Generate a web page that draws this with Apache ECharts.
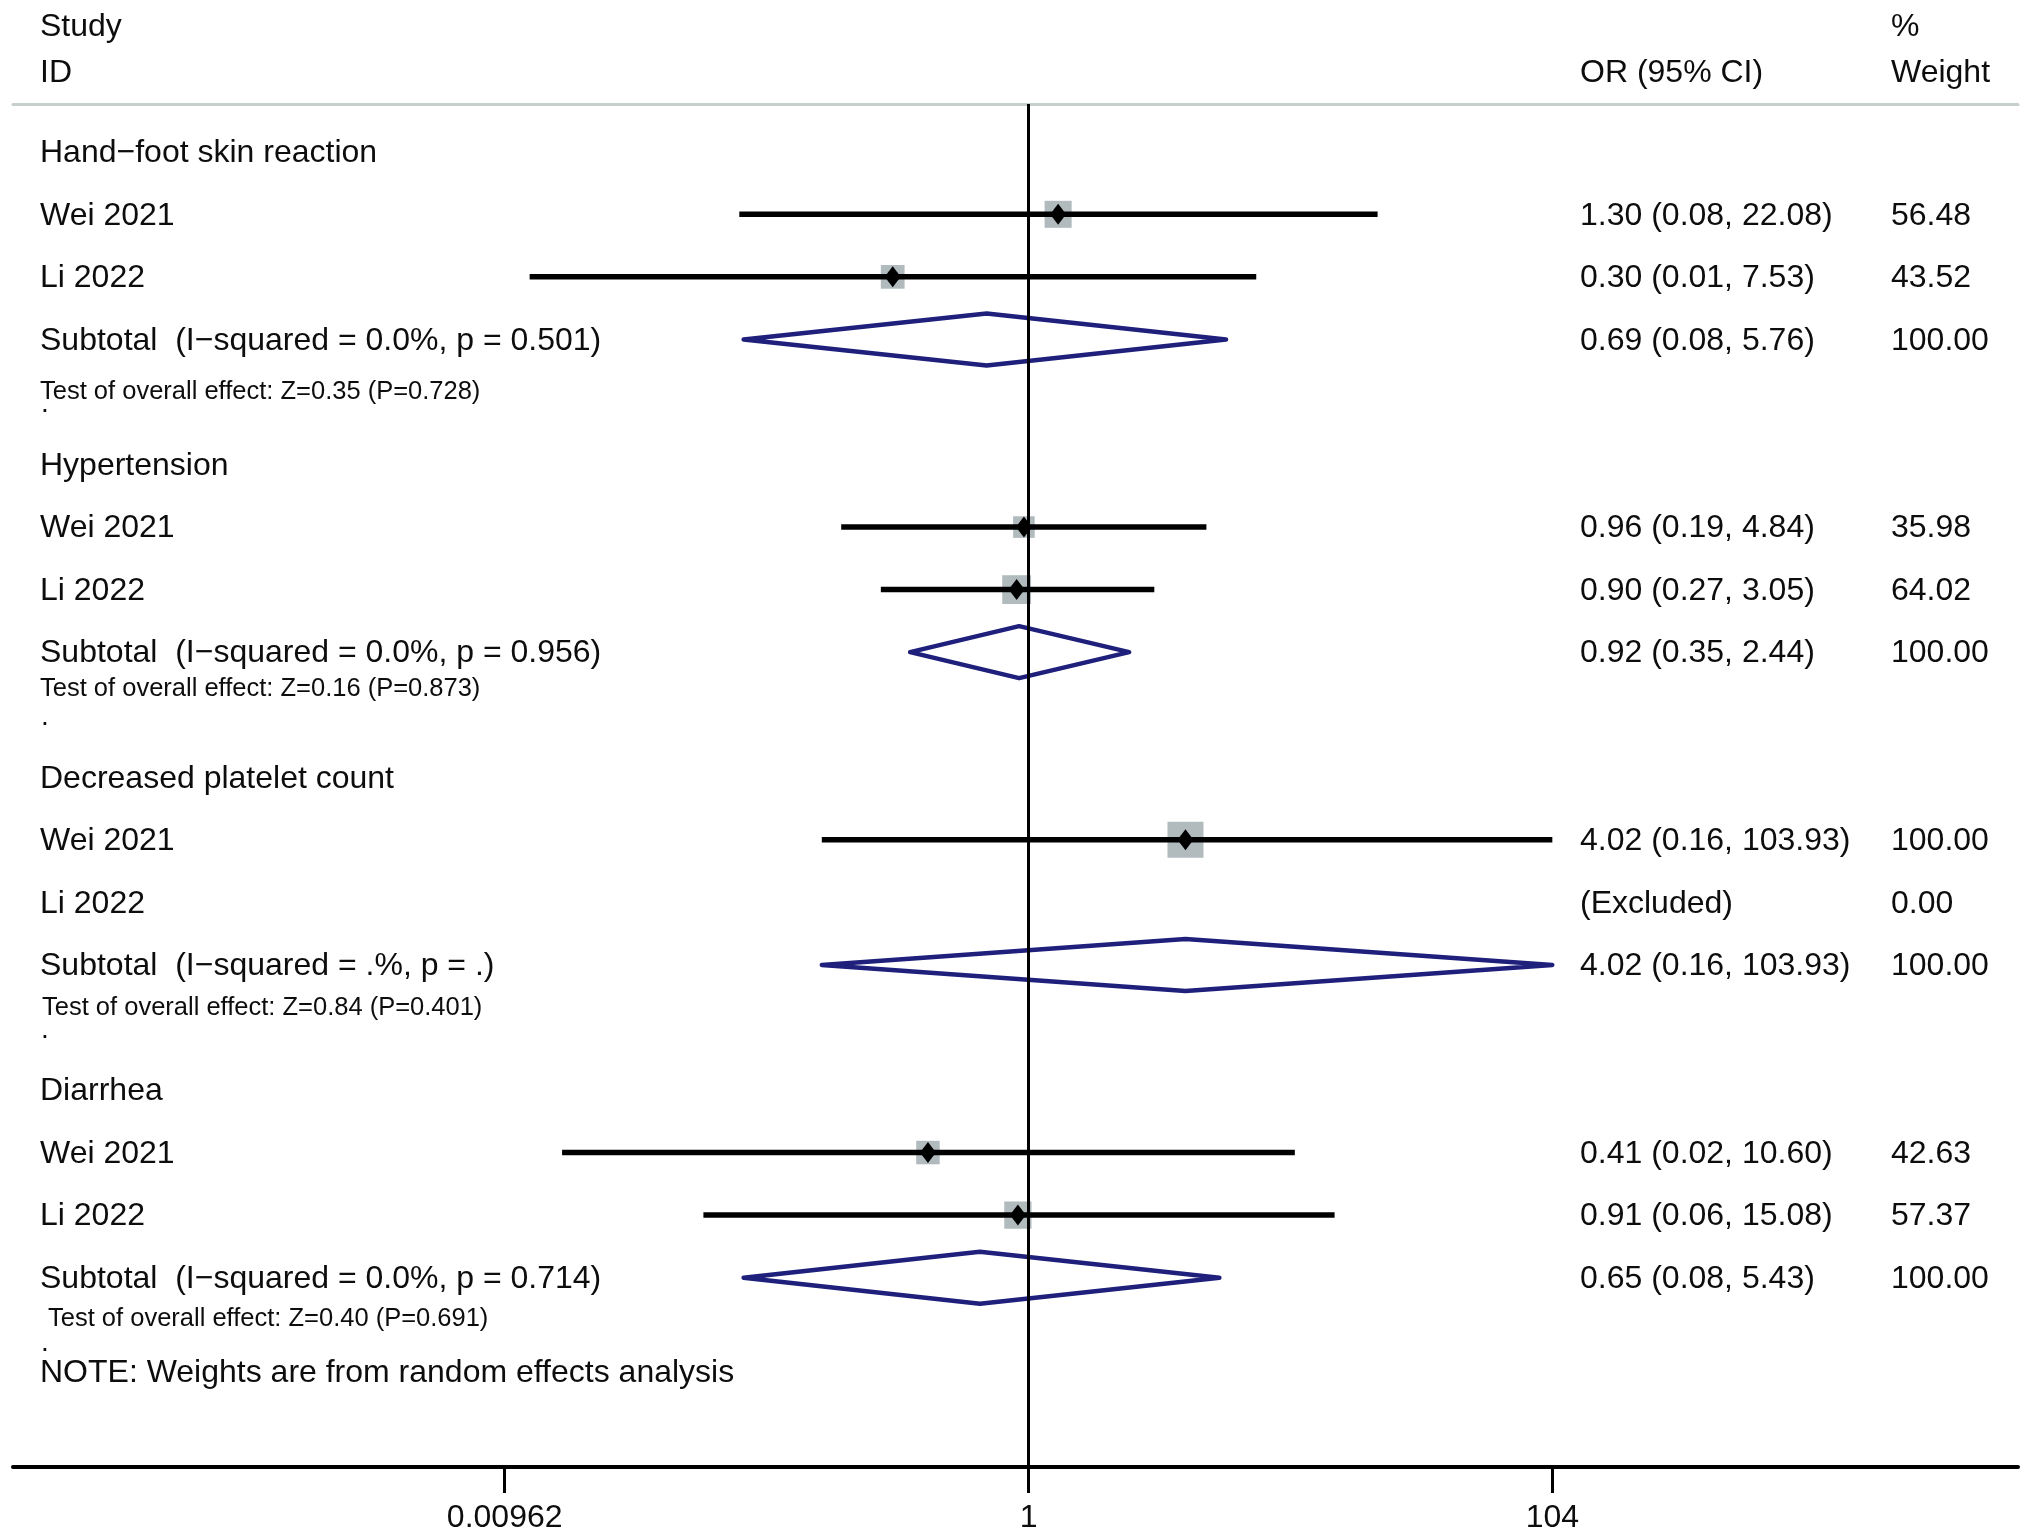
<!DOCTYPE html>
<html>
<head>
<meta charset="utf-8">
<title>Forest plot</title>
<script src="https://cdn.jsdelivr.net/npm/echarts@6/dist/echarts.min.js"></script>
<style>
  html, body { margin: 0; padding: 0; background: #fff; }
  #chart-panel { width: 2031px; height: 1539px; }
</style>
</head>
<body>
<div id="chart-panel"></div>
<script>
// ---- data ----
var groupNames = ['Hand−foot skin reaction', 'Hypertension', 'Decreased platelet count', 'Diarrhea']
var studyNames = ['Wei 2021', 'Li 2022']

// per subgroup: [Wei 2021, Li 2022]
var studyOR = [[1.30, 0.30], [0.96, 0.90], [4.02, null], [0.41, 0.91]]
var studyLow = [[0.077, 0.012], [0.19, 0.27], [0.16, null], [0.016, 0.056]]
var studyHigh = [[22.08, 7.53], [4.84, 3.05], [103.93, null], [10.60, 15.08]]
var studyWeight = [[56.48, 43.52], [35.98, 64.02], [100, 0], [42.63, 57.37]]
var studyCIText = [
  ['1.30 (0.08, 22.08)', '0.30 (0.01, 7.53)'],
  ['0.96 (0.19, 4.84)', '0.90 (0.27, 3.05)'],
  ['4.02 (0.16, 103.93)', '(Excluded)'],
  ['0.41 (0.02, 10.60)', '0.91 (0.06, 15.08)']
]
var studyWeightText = [['56.48', '43.52'], ['35.98', '64.02'], ['100.00', '0.00'], ['42.63', '57.37']]

var subOR = [0.69, 0.92, 4.02, 0.65]
var subLow = [0.08, 0.35, 0.16, 0.08]
var subHigh = [5.76, 2.44, 103.93, 5.43]
var subHetText = [
  'Subtotal  (I−squared = 0.0%, p = 0.501)',
  'Subtotal  (I−squared = 0.0%, p = 0.956)',
  'Subtotal  (I−squared = .%, p = .)',
  'Subtotal  (I−squared = 0.0%, p = 0.714)'
]
var subCIText = ['0.69 (0.08, 5.76)', '0.92 (0.35, 2.44)', '4.02 (0.16, 103.93)', '0.65 (0.08, 5.43)']
var subWeightText = ['100.00', '100.00', '100.00', '100.00']
var testText = [
  'Test of overall effect: Z=0.35 (P=0.728)',
  'Test of overall effect: Z=0.16 (P=0.873)',
  'Test of overall effect: Z=0.84 (P=0.401)',
  'Test of overall effect: Z=0.40 (P=0.691)'
]
var noteText = 'NOTE: Weights are from random effects analysis'

var tickValues = [0.00962, 1, 104]
var tickLabels = ['0.00962', '1', '104']

// ---- layout ----
var FONT = '"Liberation Sans", Arial, Helvetica, sans-serif'
var X_MIN = -9.003, X_MAX = 8.772      // ln(OR) range of the plot area
var Y_MIN = 0.2366, Y_MAX = 22.027     // row units
var testOffset = [3.81, 3.57, 3.67, 3.63]
var testIndent = [0, 0, 2, 8]
var colLeft = 40, colOR = 1580, colWt = 1891
var BIG = 32, SMALL = 25.5

// build rows
var studyData = []
var subData = []
var textItems = []

function addText (row, x, text, size) {
  textItems.push({ row: row, x: x, text: text, size: size })
}

addText(-1.01, colLeft, 'Study', BIG)
addText(-0.275, colLeft, 'ID', BIG)
addText(-0.275, colOR, 'OR (95% CI)', BIG)
addText(-1.01, colWt, '%', BIG)
addText(-0.275, colWt, 'Weight', BIG)

groupNames.forEach(function (name, g) {
  var base = 1 + 5 * g
  addText(base, colLeft, name, BIG)
  studyNames.forEach(function (sname, s) {
    var row = base + 1 + s
    addText(row, colLeft, sname, BIG)
    addText(row, colOR, studyCIText[g][s], BIG)
    addText(row, colWt, studyWeightText[g][s], BIG)
    if (studyOR[g][s] !== null) {
      studyData.push([
        Math.log(studyLow[g][s]), Math.log(studyHigh[g][s]), Math.log(studyOR[g][s]), row, studyWeight[g][s]
      ])
    }
  })
  var srow = base + 3
  addText(srow, colLeft, subHetText[g], BIG)
  addText(srow, colOR, subCIText[g], BIG)
  addText(srow, colWt, subWeightText[g], BIG)
  subData.push([Math.log(subLow[g]), Math.log(subHigh[g]), Math.log(subOR[g]), srow])
  addText(base + testOffset[g], colLeft + testIndent[g], testText[g], SMALL)
  addText(base + 4.02, colLeft + 1, '.', 28)
})
addText(20.51, colLeft, noteText, BIG)

var tickLn = tickValues.map(function (v) { return Math.log(v) })

var chart = echarts.init(document.getElementById('chart-panel'))

var option = {
  backgroundColor: '#fff',
  animation: false,
  grid: {
    left: 13,
    right: 13,
    top: 104,
    bottom: 72,
    containLabel: false,
    outerBoundsMode: 'none'
  },
  xAxis: [
    {
      type: 'value',
      position: 'bottom',
      min: X_MIN,
      max: X_MAX,
      axisLine: { show: true, onZero: false, lineStyle: { color: '#000', width: 4 } },
      axisTick: {
        show: true,
        customValues: tickLn,
        length: 26,
        lineStyle: { color: '#000', width: 3 }
      },
      axisLabel: {
        show: true,
        customValues: tickLn,
        margin: 35,
        color: '#0d0d0d',
        fontSize: BIG,
        fontFamily: FONT,
        formatter: function (v) {
          for (var i = 0; i < tickLn.length; i++) {
            if (Math.abs(tickLn[i] - v) < 1e-6) return tickLabels[i]
          }
          return ''
        }
      },
      splitLine: { show: false }
    },
    {
      // grey rule under the column headers
      type: 'value',
      position: 'top',
      min: X_MIN,
      max: X_MAX,
      axisLine: { show: true, onZero: false, lineStyle: { color: '#c6cece', width: 3 } },
      axisTick: { show: false },
      axisLabel: { show: false },
      splitLine: { show: false }
    }
  ],
  yAxis: {
    type: 'value',
    inverse: true,
    min: Y_MIN,
    max: Y_MAX,
    show: false
  },
  series: [
    {
      name: 'studies',
      type: 'custom',
      xAxisIndex: 0,
      encode: { x: [0, 1, 2], y: 3 },
      data: studyData,
      silent: true,
      renderItem: function (params, api) {
        var row = api.value(3)
        var lo = api.coord([api.value(0), row])
        var hi = api.coord([api.value(1), row])
        var c = api.coord([api.value(2), row])
        var side = 36 * Math.sqrt(api.value(4) / 100)
        return {
          type: 'group',
          children: [
            {
              type: 'rect',
              shape: { x: c[0] - side / 2, y: c[1] - side / 2, width: side, height: side },
              style: { fill: '#b1bbbe' }
            },
            {
              type: 'line',
              shape: { x1: lo[0], y1: lo[1], x2: hi[0], y2: hi[1] },
              style: { stroke: '#000', lineWidth: 5.5 }
            },
            {
              type: 'polygon',
              shape: { points: [[c[0] - 8, c[1]], [c[0], c[1] - 10.5], [c[0] + 8, c[1]], [c[0], c[1] + 10.5]] },
              style: { fill: '#000' }
            }
          ]
        }
      },
      markLine: {
        silent: true,
        symbol: ['none', 'none'],
        label: { show: false },
        lineStyle: { color: '#000', width: 3, type: 'solid' },
        emphasis: { disabled: true },
        data: [{ xAxis: 0 }]
      }
    },
    {
      name: 'subtotals',
      type: 'custom',
      xAxisIndex: 0,
      encode: { x: [0, 1, 2], y: 3 },
      data: subData,
      silent: true,
      renderItem: function (params, api) {
        var row = api.value(3)
        var lo = api.coord([api.value(0), row])
        var hi = api.coord([api.value(1), row])
        var c = api.coord([api.value(2), row])
        var h = 26
        return {
          type: 'polygon',
          shape: { points: [[lo[0], lo[1]], [c[0], c[1] - h], [hi[0], hi[1]], [c[0], c[1] + h]] },
          style: { fill: 'none', stroke: '#1f1f7c', lineWidth: 4.5, lineJoin: 'round' }
        }
      }
    },
    {
      name: 'texts',
      type: 'custom',
      xAxisIndex: 0,
      encode: { x: 0, y: 1 },
      clip: false,
      silent: true,
      data: textItems.map(function (t) { return [0, t.row] }),
      renderItem: function (params, api) {
        var item = textItems[params.dataIndex]
        var y = api.coord([0, api.value(1)])[1] + 1.5
        return {
          type: 'text',
          x: item.x,
          y: y,
          style: {
            text: item.text,
            fill: '#0d0d0d',
            fontSize: item.size,
            fontFamily: FONT,
            align: 'left',
            verticalAlign: 'middle'
          }
        }
      }
    }
  ]
}

chart.setOption(option)
</script>
</body>
</html>
